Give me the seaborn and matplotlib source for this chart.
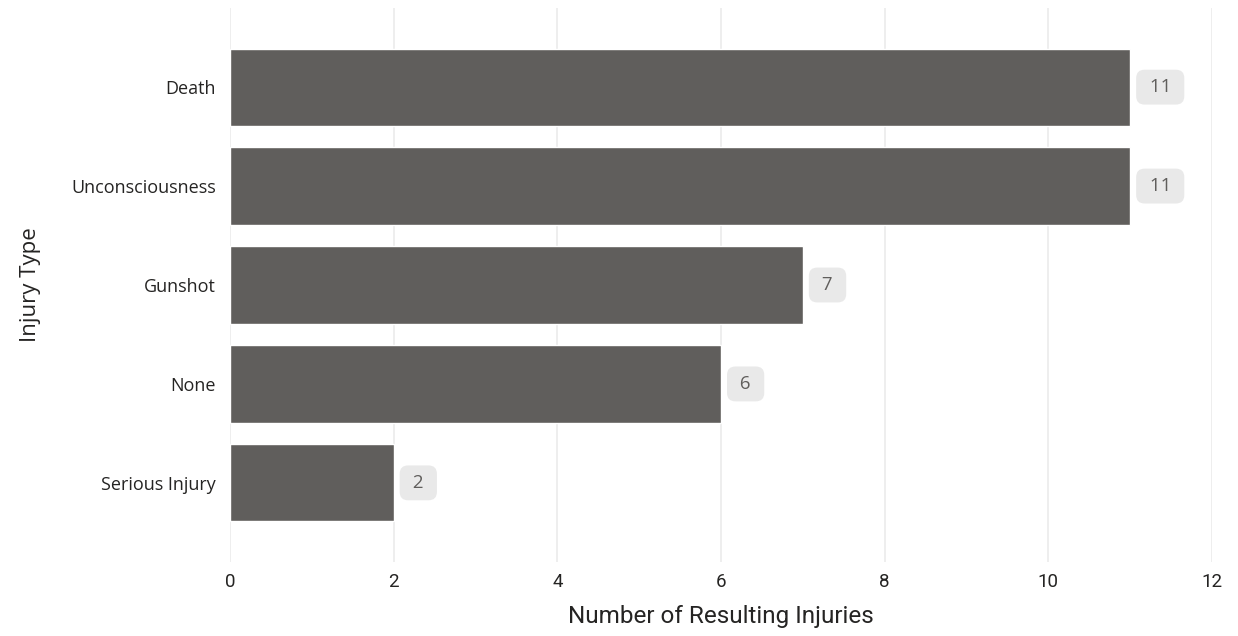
import matplotlib
matplotlib.use("Agg")
import matplotlib.pyplot as plt
import seaborn as sns
import pandas as pd

categories = ["Death", "Unconsciousness", "Gunshot", "None", "Serious Injury"]
counts = [11, 11, 7, 6, 2]
x_ticks = [0, 2, 4, 6, 8, 10, 12]

df = pd.DataFrame({"Injury Type": categories, "Count": counts})

sns.set_theme(style="white")
plt.rcParams["font.family"] = ["Open Sans", "DejaVu Sans"]

fig = plt.figure(figsize=(12.38, 6.36), dpi=100)
ax = fig.add_axes([230 / 1238, 1 - 562 / 636, (1212 - 230) / 1238, (562 - 8) / 636])

sns.barplot(data=df, x="Count", y="Injury Type", order=categories, color="#605E5C",
            saturation=1, width=0.78, ax=ax, zorder=3)

ax.set_xlim(0, 12)
ax.set_ylim(4.8, -0.8)
ax.set_xticks(x_ticks)
ax.xaxis.grid(True, color="#EBEBEB", linewidth=1.2, zorder=0)
ax.yaxis.grid(False)
for s in ax.spines.values():
    s.set_visible(False)
ax.tick_params(axis="both", length=0)
ax.tick_params(axis="y", pad=10, labelsize=13, labelcolor="#252423")
ax.tick_params(axis="x", pad=8, labelsize=13.5, labelcolor="#252423")
for t in ax.get_xticklabels():
    t.set_family(["Roboto", "DejaVu Sans"])

ax.set_xlabel("Number of Resulting Injuries", fontsize=17.5, color="#252423",
              family=["Roboto", "DejaVu Sans"], labelpad=10)
ax.set_ylabel("Injury Type", fontsize=16, color="#252423", labelpad=22)

for i, v in enumerate(counts):
    ax.annotate(f" {v} ", xy=(v, i), xytext=(10.4, 0), textcoords="offset points",
                ha="left", va="center", fontsize=13.5, color="#605E5C",
                bbox=dict(boxstyle="round,pad=0.45,rounding_size=0.45",
                          fc="#E9E9E9", ec="none"))

fig.savefig("out.png", dpi=100)
